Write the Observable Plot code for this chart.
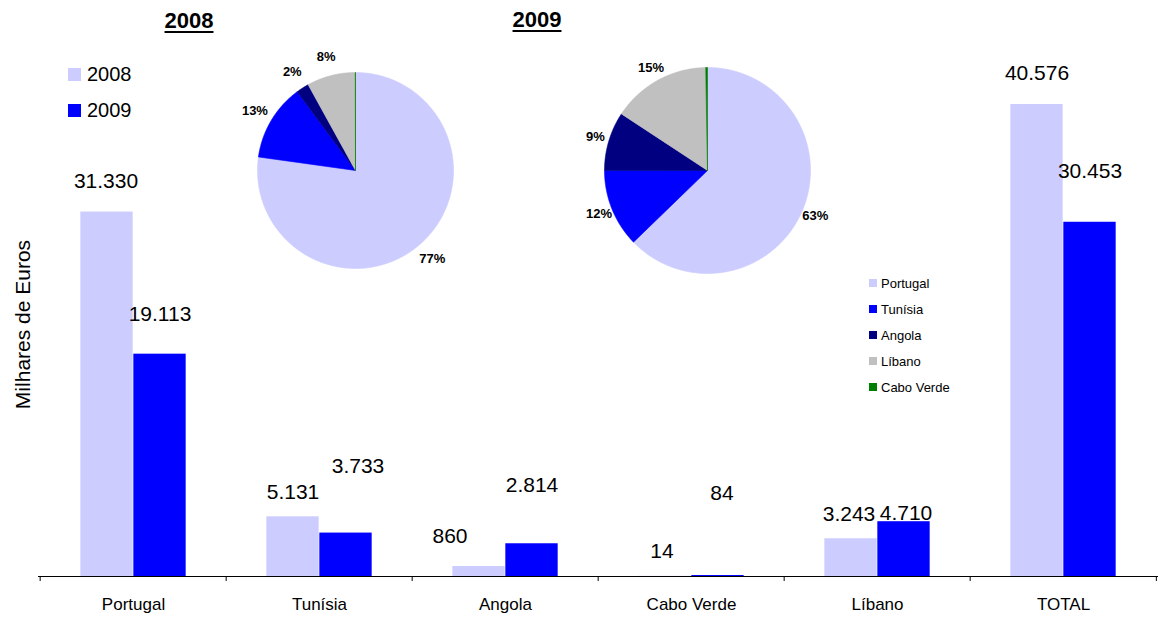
<!DOCTYPE html>
<html><head><meta charset="utf-8">
<script src="https://cdn.jsdelivr.net/npm/d3@7"></script>
<script src="https://cdn.jsdelivr.net/npm/@observablehq/plot@0.6"></script>
<style>
body{margin:0;background:#fff;font-family:"Liberation Sans",Arial,Helvetica,sans-serif;color:#000;}
#wrap{position:relative;width:1159px;height:621px;overflow:hidden;}
.abs{position:absolute;line-height:1;white-space:nowrap;}
.c{transform:translate(-50%,-50%);}
.l{transform:translate(0,-50%);}
</style></head><body><div id="wrap"></div>
<script>
// ---- data ----
const categories = ["Portugal", "Tunísia", "Angola", "Cabo Verde", "Líbano", "TOTAL"];
const values2008 = [31330, 5131, 860, 14, 3243, 40576];
const values2009 = [19113, 3733, 2814, 84, 4710, 30453];
const years = ["2008", "2009"];
const pieCountries = ["Portugal", "Tunísia", "Angola", "Líbano", "Cabo Verde"];
const yAxisTitle = "Milhares de Euros";

// ---- styling / layout ----
const yearColors = ["#CCCCFF", "#0000FF"];
const pieColors = ["#CCCCFF", "#0000FF", "#000080", "#C0C0C0", "#008000"];
const W = 1159, H = 621, mL = 38, mR = 1, mT = 104, mB = 45;
const step = (W - mL - mR) / categories.length;
const barW = 53;
// per-label placement tweaks (pixels): how far above the bar top, and horizontal nudge
const lift2008 = [31, 25, 30, 25, 25, 31], nudge2008 = [-1, 0, -29, -3, -2, 0];
const lift2009 = [40, 67, 59, 82, 8, 51], nudge2009 = [0, 12, 0, 4, 2, 0];

const fmt = v => d3.format(",")(v).replace(/,/g, ".");
const yMax = d3.max([...values2008, ...values2009]);
const plotH = H - mT - mB;
const tickVal = yMax * 5 / plotH;

const rows08 = categories.map((c, i) => ({cat: c, year: years[0], value: values2008[i]}));
const rows09 = categories.map((c, i) => ({cat: c, year: years[1], value: values2009[i]}));

const labelMarks = [
  ...rows08.map((d, i) => Plot.text([d], {x: "cat", y: "value", text: d => fmt(d.value),
      dx: -barW / 2 + nudge2008[i], dy: -lift2008[i], fontSize: 21})),
  ...rows09.map((d, i) => Plot.text([d], {x: "cat", y: "value", text: d => fmt(d.value),
      dx: barW / 2 + nudge2009[i], dy: -lift2009[i], fontSize: 21}))
];

const main = Plot.plot({
  width: W, height: H, marginLeft: mL, marginRight: mR, marginTop: mT, marginBottom: mB,
  style: {fontFamily: '"Liberation Sans", Arial, sans-serif', background: "transparent", overflow: "visible"},
  x: {type: "band", domain: categories, padding: 0, axis: null},
  y: {domain: [0, yMax], axis: null},
  marks: [
    Plot.barY(rows08, {x: "cat", y: "value", fill: yearColors[0], insetLeft: step / 2 - barW, insetRight: step / 2}),
    Plot.barY(rows09, {x: "cat", y: "value", fill: yearColors[1], insetLeft: step / 2, insetRight: step / 2 - barW}),
    Plot.ruleY([0], {stroke: "#000", strokeWidth: 1}),
    Plot.ruleX(categories, {x: d => d, y1: 0, y2: -tickVal, dx: -step / 2, stroke: "#000"}),
    Plot.ruleX(categories.slice(-1), {x: d => d, y1: 0, y2: -tickVal, dx: step / 2 - 0.5, stroke: "#000"}),
    Plot.axisX({tickSize: 0, tickPadding: 21, fontSize: 17, label: null}),
    ...labelMarks,
    Plot.text([yAxisTitle], {frameAnchor: "left", textAnchor: "middle", rotate: -90, dx: -15, dy: -16, fontSize: 21})
  ]
});
main.style.position = "absolute"; main.style.left = "0px"; main.style.top = "0px";
const wrap = document.getElementById("wrap");
wrap.appendChild(main);

// ---- pies ----
function pieData(vals) {
  return pieCountries.map(n => ({name: n, value: vals[categories.indexOf(n)]}));
}
function makePie(vals, R, labelR, cx, cy) {
  const half = 145;
  const data = pieData(vals);
  const total = d3.sum(data, d => d.value);
  const arcs = d3.pie().sort(null).value(d => d.value).startAngle(0).endAngle(2 * Math.PI)(data);
  const pts = [];
  arcs.forEach(a => {
    const n = Math.max(2, Math.ceil((a.endAngle - a.startAngle) / 0.01));
    pts.push({name: a.data.name, x: 0, y: 0});
    for (let k = 0; k <= n; k++) {
      const t = a.startAngle + (a.endAngle - a.startAngle) * k / n;
      pts.push({name: a.data.name, x: Math.sin(t), y: Math.cos(t)});
    }
    pts.push({name: a.data.name, x: 0, y: 0});
  });
  const labels = arcs.filter(a => a.data.value / total >= 0.01).map(a => {
    const m = (a.startAngle + a.endAngle) / 2;
    return {x: labelR * Math.sin(m), y: labelR * Math.cos(m), text: Math.round(100 * a.data.value / total) + "%"};
  });
  const dom = half / R;
  const p = Plot.plot({
    width: 2 * half, height: 2 * half, margin: 0,
    style: {fontFamily: '"Liberation Sans", Arial, sans-serif', background: "transparent", overflow: "visible"},
    x: {domain: [-dom, dom], axis: null},
    y: {domain: [-dom, dom], axis: null},
    color: {domain: pieCountries, range: pieColors},
    marks: [
      Plot.line(pts, {x: "x", y: "y", z: "name", fill: "name", stroke: "name", strokeWidth: 0.6, curve: "linear"}),
      Plot.text(labels, {x: "x", y: "y", text: "text", fontWeight: "bold", fontSize: 13})
    ]
  });
  p.style.position = "absolute";
  p.style.left = (cx - half) + "px";
  p.style.top = (cy - half) + "px";
  wrap.appendChild(p);
}
makePie(values2008, 98, 117 / 98, 355, 170);
makePie(values2009, 103, 117 / 103, 707, 170);

// ---- titles & legends ----
function addText(txt, x, y, cls, css) {
  const d = document.createElement("div");
  d.className = "abs " + cls;
  d.textContent = txt;
  d.style.left = x + "px"; d.style.top = y + "px";
  Object.assign(d.style, css || {});
  wrap.appendChild(d);
  return d;
}
function addSwatch(x, y, s, color) {
  const d = document.createElement("div");
  d.className = "abs";
  Object.assign(d.style, {left: x + "px", top: y + "px", width: s + "px", height: s + "px", background: color});
  wrap.appendChild(d);
}
const titleCss = {fontSize: "22px", fontWeight: "bold", textDecoration: "underline", textUnderlineOffset: "3px", textDecorationThickness: "2px"};
addText(years[0], 189, 21, "c", titleCss);
addText(years[1], 537, 20, "c", titleCss);

// year legend (top-left)
[[years[0], 74], [years[1], 110]].forEach(([y, cy], i) => {
  addSwatch(68, cy - 6.5, 13, yearColors[i]);
  addText(y, 87, cy, "l", {fontSize: "20px"});
});
// pie legend
pieCountries.forEach((n, i) => {
  const cy = 283 + i * 26;
  addSwatch(869, cy - 4, 8, pieColors[i]);
  addText(n, 881, cy, "l", {fontSize: "13px"});
});
</script></body></html>
